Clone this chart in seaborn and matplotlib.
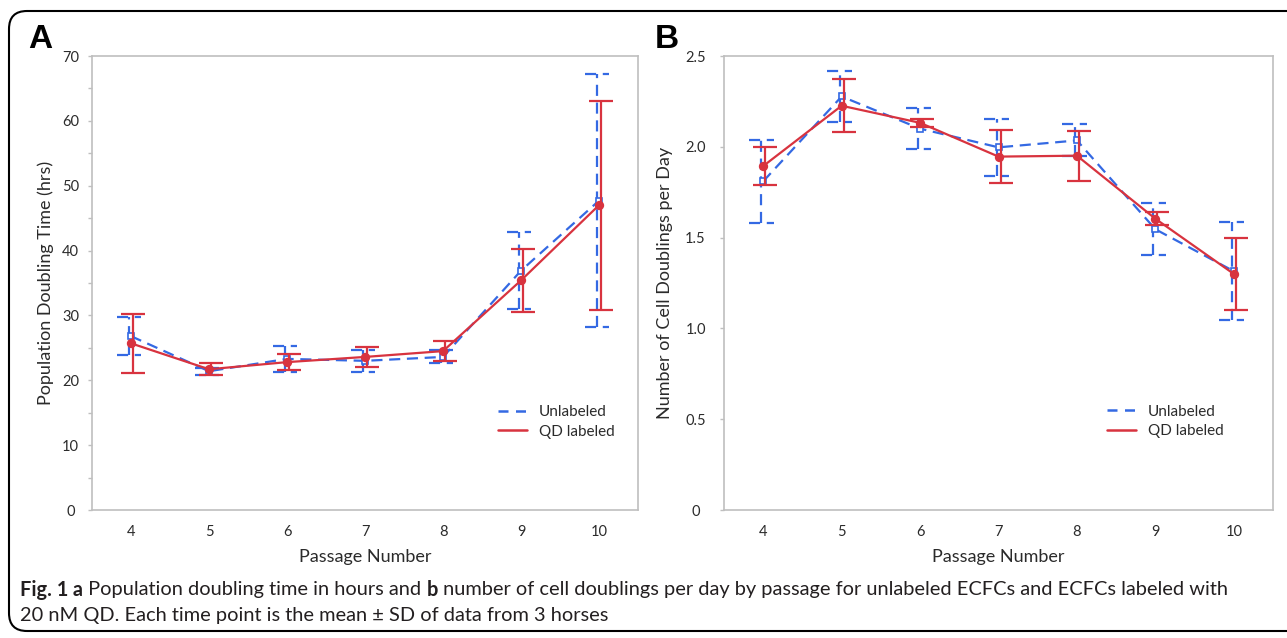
import numpy as np
import pandas as pd
import seaborn as sns
import matplotlib
matplotlib.use("Agg")
import matplotlib.pyplot as plt
from matplotlib.patches import FancyBboxPatch
from matplotlib.lines import Line2D
from matplotlib.transforms import ScaledTranslation, IdentityTransform

# ---------------- data ----------------
passages = [4, 5, 6, 7, 8, 9, 10]
groups = ["Unlabeled", "QD labeled"]

# Panel A: population doubling time (hrs), mean and SD
pdt_unlabeled_mean = [26.8, 21.4, 23.3, 23.0, 23.6, 36.9, 47.7]
pdt_unlabeled_sd = [2.95, 0.55, 2.05, 1.65, 1.0, 5.9, 19.5]
pdt_qd_mean = [25.7, 21.7, 22.8, 23.6, 24.5, 35.4, 47.0]
pdt_qd_sd = [4.55, 0.9, 1.25, 1.5, 1.55, 4.8, 16.1]

# Panel B: number of cell doublings per day, mean and SD
cd_unlabeled_mean = [1.81, 2.277, 2.10, 1.997, 2.035, 1.546, 1.315]
cd_unlabeled_sd = [0.228, 0.14, 0.111, 0.158, 0.088, 0.142, 0.27]
cd_qd_mean = [1.894, 2.226, 2.132, 1.946, 1.951, 1.604, 1.30]
cd_qd_sd = [0.103, 0.146, 0.021, 0.145, 0.138, 0.035, 0.197]

ylabels = ["Population Doubling Time (hrs)", "Number of Cell Doublings per Day"]
xlabel = "Passage Number"
panel_letters = ["A", "B"]
yticks_a = [0, 10, 20, 30, 40, 50, 60, 70]
yticks_b = [0, 0.5, 1.0, 1.5, 2.0, 2.5]
yticklabels_b = ["0", "0.5", "1.0", "1.5", "2.0", "2.5"]

caption1 = [("Fig. 1", "bold"), (" a", "bold"),
            (" Population doubling time in hours and ", "normal"), ("b", "bold"),
            (" number of cell doublings per day by passage for unlabeled ECFCs and ECFCs labeled with", "normal")]
caption2 = [("20 nM QD. Each time point is the mean ± SD of data from 3 horses", "normal")]

BLUE = "#3469e3"
RED = "#d8333f"
SPINE = "#bfbfbf"
TXT = "#2b2b2b"

# ---------------- style ----------------
sns.set_theme(style="white")
plt.rcParams["font.family"] = ["Lato", "DejaVu Sans"]

W, H = 1287, 638
fig = plt.figure(figsize=(W / 100, H / 100), dpi=100)
fig.patch.set_facecolor("white")

ax_a = fig.add_axes([92 / W, (H - 510) / H, 546 / W, 454 / H])
ax_b = fig.add_axes([724 / W, (H - 510) / H, 549 / W, 454 / H])

def make_df(m_unl, m_qd):
    return pd.DataFrame({
        "Passage": passages * 2,
        "Value": list(m_unl) + list(m_qd),
        "Group": [groups[0]] * len(passages) + [groups[1]] * len(passages),
    })

def draw_panel(ax, m_unl, s_unl, m_qd, s_qd):
    df = make_df(m_unl, m_qd)
    sns.lineplot(data=df, x="Passage", y="Value", hue="Group", style="Group",
                 hue_order=groups, style_order=groups,
                 palette={groups[0]: BLUE, groups[1]: RED},
                 dashes={groups[0]: (5, 3), groups[1]: ""},
                 markers={groups[0]: "s", groups[1]: "o"},
                 markersize=5.5, linewidth=1.6, markeredgewidth=1.2,
                 legend=False, ax=ax)
    for ln in ax.lines:
        c = matplotlib.colors.to_hex(ln.get_color())
        if c == BLUE:
            ln.set_markerfacecolor("white")
            ln.set_markeredgecolor(BLUE)
            ln.set_markersize(5)
            ln.set_zorder(3)
        else:
            ln.set_markerfacecolor(RED)
            ln.set_markeredgecolor(RED)
            ln.set_zorder(5)

    left = ax.transData + ScaledTranslation(-2 / 100, 0, fig.dpi_scale_trans)
    right = ax.transData + ScaledTranslation(2 / 100, 0, fig.dpi_scale_trans)
    x = np.array(passages, dtype=float)
    mu = np.array(m_unl); su = np.array(s_unl)
    ax.vlines(x, mu - su, mu + su, colors=BLUE, linestyles=(0, (5, 3)),
              linewidth=1.6, transform=left, zorder=2)
    for yy in (mu - su, mu + su):
        ax.hlines(yy, x - 0.16, x + 0.16, colors=BLUE, linestyles=(0, (5, 3)),
                  linewidth=1.6, transform=left, zorder=2)
    ax.errorbar(x, m_qd, yerr=s_qd, fmt="none", ecolor=RED, elinewidth=1.6,
                capsize=8.5, capthick=1.6, transform=right, zorder=4)

    ax.set_xlim(3.5, 10.5)
    ax.set_xticks(passages)
    ax.set_xticklabels([str(p) for p in passages])
    for sp in ax.spines.values():
        sp.set_visible(True)
        sp.set_color(SPINE)
        sp.set_linewidth(1.2)
    ax.tick_params(axis="x", length=0, pad=11, labelsize=10.5, labelcolor=TXT)
    ax.set_xlabel(xlabel, fontsize=13, color=TXT, labelpad=7)
    ax.set_facecolor("white")

    handles = [Line2D([], [], color=BLUE, lw=1.8, dashes=(4, 3)),
               Line2D([], [], color=RED, lw=1.8)]
    return handles

h = draw_panel(ax_a, pdt_unlabeled_mean, pdt_unlabeled_sd, pdt_qd_mean, pdt_qd_sd)
ax_a.set_ylim(0, 70)
ax_a.set_yticks(yticks_a)
ax_a.set_yticklabels([str(v) for v in yticks_a])
ax_a.set_yticks(np.arange(5, 70, 10), minor=True)
ax_a.tick_params(axis="y", which="both", direction="out", length=3, width=1,
                 color=SPINE, left=True)
ax_a.tick_params(axis="y", which="major", labelsize=10.5, labelcolor=TXT, pad=12.5)
for t in ax_a.get_yticklabels():
    t.set_horizontalalignment("center")
ax_a.set_ylabel(ylabels[0], fontsize=13, color=TXT, labelpad=6)
ax_a.legend(h, groups, loc="center left", bbox_to_anchor=(0.744, 0.194),
            frameon=False, fontsize=11, handlelength=1.9, handletextpad=0.75,
            labelspacing=0.35, borderpad=0, borderaxespad=0, labelcolor=TXT)

h = draw_panel(ax_b, cd_unlabeled_mean, cd_unlabeled_sd, cd_qd_mean, cd_qd_sd)
ax_b.set_ylim(0, 2.5)
ax_b.set_yticks(yticks_b)
ax_b.set_yticklabels(yticklabels_b)
ax_b.tick_params(axis="y", which="both", direction="out", length=3, width=1,
                 color=SPINE, left=True)
ax_b.tick_params(axis="y", which="major", labelsize=10.5, labelcolor=TXT, pad=17.5)
for t in ax_b.get_yticklabels():
    t.set_horizontalalignment("center")
ax_b.set_ylabel(ylabels[1], fontsize=13, color=TXT, labelpad=9)
ax_b.legend(h, groups, loc="center left", bbox_to_anchor=(0.698, 0.195),
            frameon=False, fontsize=11, handlelength=1.9, handletextpad=0.75,
            labelspacing=0.35, borderpad=0, borderaxespad=0, labelcolor=TXT)

# panel letters
fig.text(28 / W, 1 - 40 / H, panel_letters[0], fontsize=24, fontweight="bold",
         family="Liberation Sans", va="center", ha="left", color="black")
fig.text(655 / W, 1 - 40 / H, panel_letters[1], fontsize=24, fontweight="bold",
         family="Liberation Sans", va="center", ha="left", color="black")

# rounded frame
frame = FancyBboxPatch((9, H - 631), 1310, 631 - 11,
                       boxstyle="round,pad=0,rounding_size=18",
                       transform=IdentityTransform(), facecolor="none",
                       edgecolor="black", linewidth=1.5)
fig.add_artist(frame)

# caption with mixed weights
fig.canvas.draw()
renderer = fig.canvas.get_renderer()

def rich_line(x_px, y_px, pieces, size=14.4):
    x = x_px
    for txt, weight in pieces:
        t = fig.text(x / W, 1 - y_px / H, txt, fontsize=size, fontweight=weight,
                     va="center", ha="left", color="#231f20")
        bb = t.get_window_extent(renderer=renderer)
        x += bb.width

rich_line(20, 590, caption1)
rich_line(20, 615, caption2)

fig.savefig("out.png", dpi=100, facecolor="white")
